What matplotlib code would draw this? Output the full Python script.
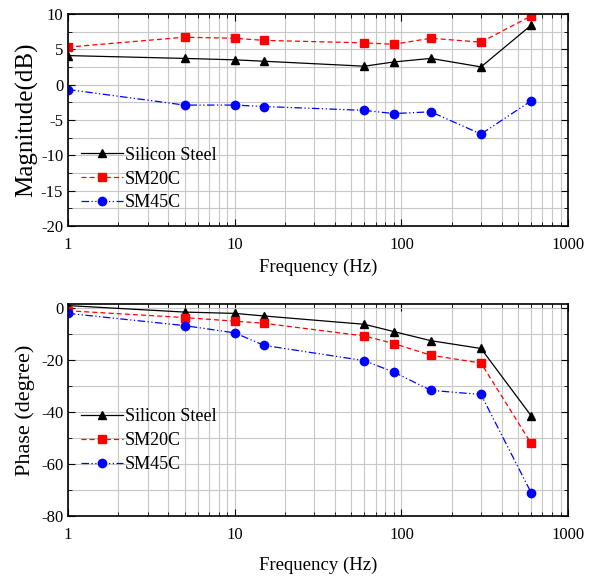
import matplotlib
matplotlib.use("Agg")
import matplotlib.pyplot as plt
from matplotlib.ticker import MultipleLocator, LogLocator, NullFormatter

plt.rcParams['font.family'] = ['Liberation Serif', 'DejaVu Serif']
plt.rcParams['axes.unicode_minus'] = False

# frequency points (Hz)
freq = [1, 5, 10, 15, 60, 90, 150, 300, 600]

# magnitude (dB)
mag_si = [4.1, 3.7, 3.5, 3.3, 2.6, 3.2, 3.7, 2.5, 8.4]
mag_sm20 = [5.3, 6.7, 6.55, 6.25, 5.9, 5.7, 6.55, 6.0, 9.7]
mag_sm45 = [-0.7, -2.9, -2.9, -3.1, -3.65, -4.1, -3.85, -7.0, -2.3]

# phase (degree)
ph_si = [1.0, -1.5, -2.0, -3.0, -6.2, -9.0, -12.5, -15.5, -41.4]
ph_sm20 = [-1.0, -3.6, -5.0, -5.8, -10.7, -13.6, -18.1, -21.1, -52.0]
ph_sm45 = [-2.0, -6.7, -9.5, -14.3, -20.2, -24.6, -31.6, -33.2, -71.0]

labels = ['Silicon Steel', 'SM20C', 'SM45C']

fig = plt.figure(figsize=(5.94, 5.78), dpi=100)
ax1 = fig.add_axes([0.1145, 0.609, 0.842, 0.367])
ax2 = fig.add_axes([0.1145, 0.107, 0.842, 0.367])


def draw(ax, a, b, c, xpad, leg_top):
    ax.plot(freq, a, color='black', ls='-', lw=0.9, marker='^', ms=6, label=labels[0])
    ax.plot(freq, b, color='red', ls=(0, (4, 2.5)), lw=0.9, marker='s', ms=5.5, label=labels[1])
    ax.plot(freq, c, color='blue', ls=(0, (6, 2, 1, 2, 1, 2)), lw=0.9, marker='o', ms=6, label=labels[2])
    ax.set_xscale('log')
    ax.set_xlim(1, 1000)
    ax.xaxis.set_minor_locator(LogLocator(base=10, subs=range(2, 10), numticks=20))
    ax.xaxis.set_minor_formatter(NullFormatter())
    ax.set_xticks([1, 10, 100, 1000])
    ax.set_xticklabels(['1', '10', '100', '1000'])
    ax.grid(True, which='both', color='#c8c8c8', lw=0.8)
    ax.set_axisbelow(True)
    ax.tick_params(which='both', direction='in', top=True, right=True, labelsize=12)
    ax.tick_params(axis='x', which='major', pad=8)
    ax.tick_params(which='major', length=5)
    ax.tick_params(which='minor', length=3)
    for s in ax.spines.values():
        s.set_linewidth(1.2)
    ax.set_xlabel('Frequency (Hz)', fontsize=13.5, labelpad=xpad)
    ax.legend(loc='upper left', bbox_to_anchor=(0.005, leg_top), frameon=False, fontsize=13,
              handlelength=2.3, handletextpad=0.1, labelspacing=0.38, borderaxespad=0.2)


draw(ax1, mag_si, mag_sm20, mag_sm45, 4, 0.425)
ax1.set_ylim(-20, 10)
ax1.yaxis.set_major_locator(MultipleLocator(5))
ax1.yaxis.set_minor_locator(MultipleLocator(2.5))
ax1.set_ylabel('Magnitude(dB)', fontsize=18, labelpad=2)

draw(ax2, ph_si, ph_sm20, ph_sm45, 10, 0.56)
ax2.set_ylim(-80, 1.6)
ax2.yaxis.set_major_locator(MultipleLocator(20))
ax2.yaxis.set_minor_locator(MultipleLocator(10))
ax2.set_ylabel('Phase (degree)', fontsize=16, labelpad=4)

fig.savefig('out.png', dpi=100)
